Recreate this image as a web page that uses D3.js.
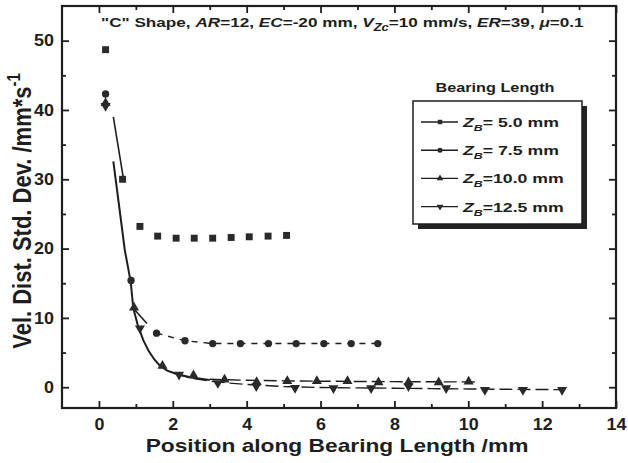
<!DOCTYPE html>
<html>
<head>
<meta charset="utf-8">
<script src="https://cdn.jsdelivr.net/npm/d3@7"></script>
<style>
  html, body { margin: 0; padding: 0; background: #fff; }
  svg { display: block; font-family: "Liberation Sans", Arial, sans-serif; font-weight: bold; }
</style>
</head>
<body>
<svg id="chart" width="628" height="463"></svg>
<script>
// ---- data ----
const xPos5   = [0.18, 0.64, 1.11, 1.59, 2.09, 2.58, 3.08, 3.58, 4.07, 4.58, 5.08];
const vel5    = [48.7, 30.0, 23.2, 21.8, 21.5, 21.5, 21.5, 21.6, 21.7, 21.8, 21.9];
const xPos75  = [0.18, 0.87, 1.56, 2.33, 3.08, 3.83, 4.59, 5.34, 6.09, 6.83, 7.55];
const vel75   = [42.3, 15.4, 7.8, 6.7, 6.3, 6.3, 6.3, 6.3, 6.3, 6.3, 6.3];
const xPos10  = [0.18, 0.95, 1.72, 2.56, 3.40, 4.27, 5.10, 5.90, 6.73, 7.57, 8.38, 9.20, 10.01];
const vel10   = [41.0, 11.5, 3.1, 1.7, 1.1, 0.75, 0.87, 0.87, 0.87, 0.7, 0.7, 0.7, 0.8];
const xPos125 = [0.18, 1.11, 2.17, 3.22, 4.26, 5.31, 6.35, 7.37, 8.38, 9.40, 10.45, 11.48, 12.54];
const vel125  = [40.6, 8.5, 1.8, 0.6, 0.15, -0.1, -0.15, -0.15, 0.15, -0.15, -0.4, -0.4, -0.4];

// fitted curves
const fit5X      = [0.39, 0.66];
const fit5Y      = [39.0, 30.2];
const fitSteepX  = [0.39, 0.55, 0.70, 0.86, 0.93, 1.05, 1.20, 1.34, 1.50, 1.65, 1.85, 2.10, 2.50, 3.00];
const fitSteepY  = [32.6, 26.0, 19.8, 15.2, 11.4, 9.0, 6.8, 5.3, 4.0, 3.1, 2.4, 1.9, 1.4, 1.05];
const fitBranchX = [0.93, 1.30];
const fitBranchY = [11.4, 9.2];
const fit10X     = [3.0, 4.0, 5.0, 6.0, 7.0, 8.0, 9.0, 10.3];
const fit10Y     = [1.15, 1.0, 0.92, 0.87, 0.83, 0.8, 0.78, 0.76];
const fit125X    = [2.1, 2.5, 3.0, 3.5, 4.0, 5.0, 6.0, 7.0, 8.0, 9.0, 10.0, 11.0, 12.5];
const fit125Y    = [1.9, 1.3, 0.9, 0.6, 0.4, 0.1, -0.05, -0.1, -0.15, -0.2, -0.25, -0.3, -0.35];

const xTicks = [0, 2, 4, 6, 8, 10, 12, 14];
const xMinor = [1, 3, 5, 7, 9, 11, 13];
const yTicks = [0, 10, 20, 30, 40, 50];
const yMinor = [5, 15, 25, 35, 45];

const legendLabels = ["= 5.0 mm", "= 7.5 mm", "=10.0 mm", "=12.5 mm"];

// ---- layout ----
const svg = d3.select("#chart");
const L = 62, R = 616, T = 6, B = 408;
const SX = 1.3;   // the source figure's type is stretched horizontally
const SXT = 1.12; // tick labels
const x = d3.scaleLinear().domain([-1, 14]).range([L, R]);
const y = d3.scaleLinear().domain([-3, 55]).range([B, T]);
const ink = "#1e1e1e";

function styleAxis(g) {
  g.select(".domain").remove();
  g.selectAll("line").attr("stroke", ink).attr("stroke-width", 1.8);
  g.selectAll("text").attr("fill", ink).style("font-size", "16px").style("font-weight", "bold");
}
svg.append("g").attr("transform", `translate(0,${B})`)
  .call(d3.axisBottom(x).tickValues(xTicks).tickSize(-7).tickPadding(11).tickFormat(d3.format("d")))
  .call(styleAxis)
  .call(g => g.selectAll("text").attr("transform", `scale(${SXT},1)`));
svg.append("g").attr("transform", `translate(0,${B})`)
  .call(d3.axisBottom(x).tickValues(xMinor).tickSize(-4).tickFormat(""))
  .call(styleAxis);
svg.append("g").attr("transform", `translate(0,${T})`)
  .call(d3.axisTop(x).tickValues(xTicks).tickSize(-7).tickFormat(""))
  .call(styleAxis);
svg.append("g").attr("transform", `translate(0,${T})`)
  .call(d3.axisTop(x).tickValues(xMinor).tickSize(-4).tickFormat(""))
  .call(styleAxis);
svg.append("g").attr("transform", `translate(${L},0)`)
  .call(d3.axisLeft(y).tickValues(yTicks).tickSize(-7).tickPadding(0).tickFormat(d3.format("d")))
  .call(styleAxis)
  .call(g => g.selectAll("text").attr("x", 0).attr("transform", `translate(-8,0) scale(${SXT},1)`));
svg.append("g").attr("transform", `translate(${L},0)`)
  .call(d3.axisLeft(y).tickValues(yMinor).tickSize(-4).tickFormat(""))
  .call(styleAxis);
svg.append("g").attr("transform", `translate(${R},0)`)
  .call(d3.axisRight(y).tickValues(yTicks).tickSize(-7).tickFormat(""))
  .call(styleAxis);
svg.append("g").attr("transform", `translate(${R},0)`)
  .call(d3.axisRight(y).tickValues(yMinor).tickSize(-4).tickFormat(""))
  .call(styleAxis);

svg.append("rect").attr("x", L).attr("y", T).attr("width", R - L).attr("height", B - T)
  .attr("fill", "none").attr("stroke", ink).attr("stroke-width", 2.2);

// lines
const line = d3.line().x(d => x(d[0])).y(d => y(d[1]));
const zip = (a, b) => a.map((v, i) => [v, b[i]]);
function drawLine(xs, ys, dash, w) {
  svg.append("path").datum(zip(xs, ys)).attr("d", line)
    .attr("fill", "none").attr("stroke", ink).attr("stroke-width", w || 1.6)
    .attr("stroke-dasharray", dash || null);
}
drawLine(fit5X, fit5Y);
drawLine(fitSteepX, fitSteepY, null, 2);
drawLine(fitBranchX, fitBranchY);
drawLine(xPos75.slice(2), vel75.slice(2), "6,6", 1.4);
drawLine(fit10X, fit10Y, "13,5", 1.4);
drawLine(fit125X, fit125Y, "13,5", 1.4);

// markers
const symSquare = d3.symbol().type(d3.symbolSquare).size(48);
const symCircle = d3.symbol().type(d3.symbolCircle).size(42);
const symTri = d3.symbol().type(d3.symbolTriangle).size(44);
function drawPts(xs, ys, sym, rot) {
  svg.append("g").selectAll("path").data(zip(xs, ys)).join("path")
    .attr("d", sym)
    .attr("transform", d => `translate(${x(d[0])},${y(d[1])})${rot ? " rotate(180)" : ""}`)
    .attr("fill", "#2a2a2a");
}
drawPts(xPos5, vel5, symSquare);
drawPts(xPos75, vel75, symCircle);
drawPts(xPos10, vel10, symTri);
drawPts(xPos125, vel125, symTri, true);

// title
const title = svg.append("g").attr("transform", `translate(101,27) scale(${SX},1)`)
  .append("text").attr("fill", ink).style("font-size", "13.2px");
title.append("tspan").text("\"C\" Shape, ");
title.append("tspan").style("font-style", "italic").text("AR");
title.append("tspan").text("=12, ");
title.append("tspan").style("font-style", "italic").text("EC");
title.append("tspan").text("=-20 mm, ");
title.append("tspan").style("font-style", "italic").text("V");
title.append("tspan").style("font-style", "italic").style("font-size", "10px").attr("dy", 4).text("Zc");
title.append("tspan").attr("dy", -4).text("=10 mm/s, ");
title.append("tspan").style("font-style", "italic").text("ER");
title.append("tspan").text("=39, ");
title.append("tspan").style("font-style", "italic").text("\u03bc");
title.append("tspan").text("=0.1");

// axis titles
svg.append("g").attr("transform", `translate(337,452) scale(${SX},1)`)
  .append("text").attr("text-anchor", "middle")
  .attr("fill", ink).style("font-size", "17.5px").text("Position along Bearing Length /mm");
const yl = svg.append("g").attr("transform", `translate(31,211) scale(1.2,1) rotate(-90)`)
  .append("text").attr("text-anchor", "middle").attr("fill", ink).style("font-size", "22px");
yl.append("tspan").text("Vel. Dist. Std. Dev. /mm*s");
yl.append("tspan").attr("dy", -9).style("font-size", "15px").text("-1");

// legend
const lgX = 413, lgY = 101, lgW = 169, lgH = 123;
svg.append("rect").attr("x", lgX + 5).attr("y", lgY + 5).attr("width", lgW).attr("height", lgH).attr("fill", "#222");
svg.append("rect").attr("x", lgX).attr("y", lgY).attr("width", lgW).attr("height", lgH)
  .attr("fill", "#fff").attr("stroke", ink).attr("stroke-width", 1.5);
svg.append("g").attr("transform", `translate(495,92) scale(${SX},1)`)
  .append("text").attr("text-anchor", "middle")
  .attr("fill", ink).style("font-size", "12.5px").text("Bearing Length");
const legRot = [false, false, false, true];
const legSmall = [d3.symbol().type(d3.symbolSquare).size(20), d3.symbol().type(d3.symbolCircle).size(20),
                  d3.symbol().type(d3.symbolTriangle).size(20), d3.symbol().type(d3.symbolTriangle).size(20)];
legendLabels.forEach((lab, i) => {
  const cy = 122 + i * 28.2;
  svg.append("line").attr("x1", 421).attr("x2", 458).attr("y1", cy).attr("y2", cy)
    .attr("stroke", ink).attr("stroke-width", 1.4);
  svg.append("path").attr("d", legSmall[i])
    .attr("transform", `translate(440,${cy})${legRot[i] ? " rotate(180)" : ""}`).attr("fill", "#2a2a2a");
  const t = svg.append("g").attr("transform", `translate(463,${cy + 5}) scale(${SX},1)`)
    .append("text").attr("fill", ink).style("font-size", "13.6px");
  t.append("tspan").style("font-style", "italic").text("Z");
  t.append("tspan").style("font-style", "italic").style("font-size", "9.5px").attr("dy", 4).text("B");
  t.append("tspan").attr("dy", -4).text(lab);
});
</script>
</body>
</html>
